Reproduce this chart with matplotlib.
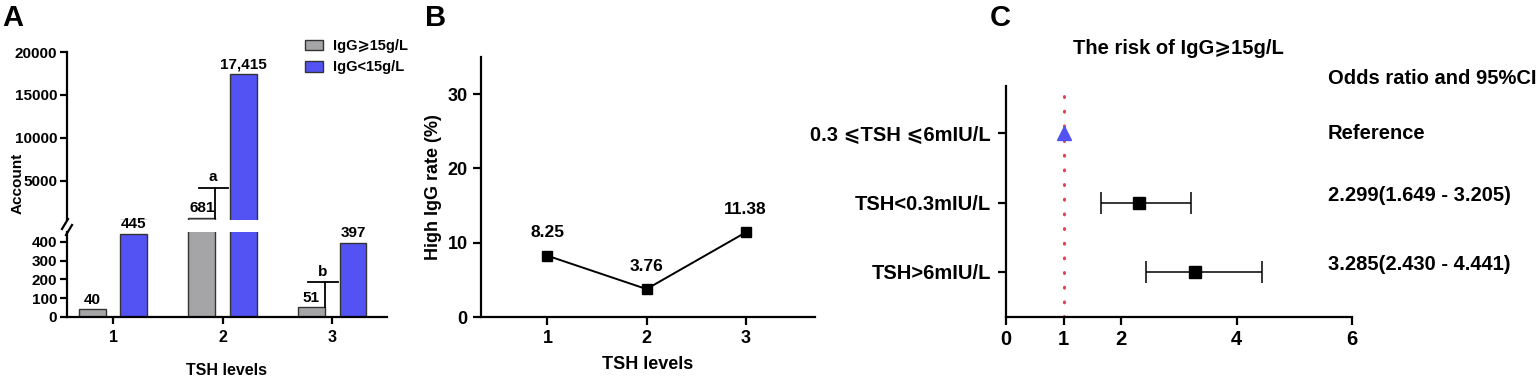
import numpy as np
import matplotlib
matplotlib.use('Agg')
import matplotlib.pyplot as plt
from matplotlib.patches import Patch
from matplotlib.lines import Line2D

plt.rcParams['font.family'] = ['Liberation Sans', 'DejaVu Sans']
plt.rcParams['font.weight'] = 'bold'
plt.rcParams['axes.labelweight'] = 'bold'

W, H = 1540, 382

# A: counts per TSH level
groups = [1, 2, 3]
high_igg = [40, 681, 51]
low_igg = [445, 17415, 397]
high_lbl = ['40', '681', '51']
low_lbl = ['445', '17,415', '397']
sig = ['', 'a', 'b']

# B: high IgG rate (%)
rate = [8.25, 3.76, 11.38]

# C: odds ratios
rows = ['0.3 \u2A7DTSH \u2A7D6mIU/L', 'TSH<0.3mIU/L', 'TSH>6mIU/L']
odds = [1.0, 2.299, 3.285]
ci_low = [1.0, 1.649, 2.430]
ci_high = [1.0, 3.205, 4.441]
or_text = ['Reference', '2.299(1.649 - 3.205)', '3.285(2.430 - 4.441)']

gray = '#A5A5A8'
blue = '#5353F3'


def box(l, t, r, b):
    return [l / W, 1 - b / H, (r - l) / W, (b - t) / H]


def style(ax):
    for s in ('top', 'right'):
        ax.spines[s].set_visible(False)
    for s in ('left', 'bottom'):
        ax.spines[s].set_linewidth(1.6)
    ax.tick_params(width=1.6, length=5)


fig = plt.figure(figsize=(W / 100, H / 100), dpi=100)

# ---------- panel A (broken y axis) ----------
axU = fig.add_axes(box(67, 52, 387, 220))
axL = fig.add_axes(box(67, 232, 387, 317))
off, bw = 0.19, 0.245
x = np.array(groups, dtype=float)
for ax in (axU, axL):
    style(ax)
    ax.bar(x - off, high_igg, bw, color=gray, edgecolor='#333333', lw=1)
    ax.bar(x + off, low_igg, bw, color=blue, edgecolor='#333333', lw=1)
    ax.set_xlim(0.58, 3.5)
    ax.tick_params(labelsize=11, pad=2)
axU.set_ylim(465, 20000)
axL.set_ylim(0, 453)
axU.set_yticks([5000, 10000, 15000, 20000])
axL.set_yticks([0, 100, 200, 300, 400])
axU.spines['bottom'].set_visible(False)
axU.set_xticks([])
axL.set_xticks(groups)
axL.tick_params(axis='x', labelsize=11.5, pad=4)
axL.set_xlabel('TSH levels', fontsize=11.5, labelpad=13)

for i, g in enumerate(groups):
    for val, lbl, dx in ((high_igg[i], high_lbl[i], -off), (low_igg[i], low_lbl[i], off)):
        ax = axU if val > 453 else axL
        ax.annotate(lbl, (g + dx, val), xytext=(0, 2), textcoords='offset points',
                    ha='center', va='bottom', fontsize=11)

# significance brackets
xv = 2 - off + bw / 2
axU.plot([xv, xv], [high_igg[1], 4200], color='k', lw=1.3)
axU.plot([xv - 0.15, xv + 0.12], [4200, 4200], color='k', lw=1.3)
axU.text(xv - 0.02, 4700, sig[1], ha='center', va='bottom', fontsize=11)
xv = 3 - off + bw / 2
axL.plot([xv, xv], [high_igg[2], 187], color='k', lw=1.3, clip_on=False)
axL.plot([xv - 0.15, xv + 0.12], [187, 187], color='k', lw=1.3)
axL.text(xv - 0.02, 205, sig[2], ha='center', va='bottom', fontsize=11)

# break marks
for (x0, y0, x1, y1) in ((62, 229, 68, 219), (66, 235, 72, 225)):
    fig.add_artist(Line2D([x0 / W, x1 / W], [1 - y0 / H, 1 - y1 / H],
                          color='k', lw=1.6))

fig.text(18 / W, 1 - 183 / H, 'Account', rotation=90, ha='center', va='center', fontsize=11)
handles = [Patch(facecolor=gray, edgecolor='#333333', lw=1),
           Patch(facecolor=blue, edgecolor='#333333', lw=1)]
fig.legend(handles, ['IgG\u2A7E15g/L', 'IgG<15g/L'], loc='upper left',
           bbox_to_anchor=(305 / W, 1 - 39 / H), frameon=False, fontsize=10.5,
           handlelength=1.2, handleheight=0.75, labelspacing=0.5,
           handletextpad=0.7, borderpad=0, borderaxespad=0)

# ---------- panel B ----------
axB = fig.add_axes(box(481, 57, 815, 317))
style(axB)
axB.plot(groups, rate, color='k', lw=1.4, marker='s', ms=7.5)
for g, r in zip(groups, rate):
    axB.annotate(f'{r:.2f}', (g, r), xytext=(0, 11), textcoords='offset points',
                 ha='center', va='bottom', fontsize=12.5)
axB.set_xlim(0.33, 3.7)
axB.set_ylim(0, 35)
axB.set_xticks(groups)
axB.set_yticks([0, 10, 20, 30])
axB.tick_params(labelsize=13, length=6)
axB.set_xlabel('TSH levels', fontsize=13, labelpad=6)
axB.set_ylabel('High IgG rate (%)', fontsize=13, labelpad=4)

# ---------- panel C ----------
axC = fig.add_axes(box(1006, 86, 1352, 317))
style(axC)
ypos = [3, 2, 1]
axC.axvline(1, color='#E8434C', lw=2.2, linestyle=(0, (0.3, 4.5)),
            dash_capstyle='round', zorder=1)
for i, y in enumerate(ypos):
    if ci_low[i] == ci_high[i]:
        axC.plot(odds[i], y, marker='^', color=blue, ms=10, zorder=3)
        axC.text(5.58, y, or_text[i], ha='left', va='center', fontsize=14.5,
                 clip_on=False)
    else:
        axC.errorbar(odds[i], y, xerr=[[odds[i] - ci_low[i]], [ci_high[i] - odds[i]]],
                     fmt='s', color='k', ms=9, elinewidth=1.1, capsize=8, capthick=1.1,
                     zorder=3)
        axC.text(5.58, y + 0.1, or_text[i], ha='left', va='center', fontsize=14.5,
                 clip_on=False)
axC.text(5.58, 3.79, 'Odds ratio and 95%CI', ha='left', va='center', fontsize=14.5,
         clip_on=False)
axC.set_xlim(0, 6)
axC.set_ylim(0.35, 3.68)
axC.set_xticks([0, 1, 2, 4, 6])
axC.set_yticks(ypos)
axC.set_yticklabels(rows)
axC.tick_params(labelsize=14.5, length=6)
axC.tick_params(axis='y', pad=5)
fig.text(1178 / W, 1 - 48 / H, 'The risk of IgG\u2A7E15g/L', ha='center', va='center',
         fontsize=14.5)

# panel letters
for lbl, px in (('A', 13), ('B', 436), ('C', 1000)):
    fig.text(px / W, 1 - 18 / H, lbl, ha='center', va='center', fontsize=21)

fig.savefig('out.png', dpi=100)
